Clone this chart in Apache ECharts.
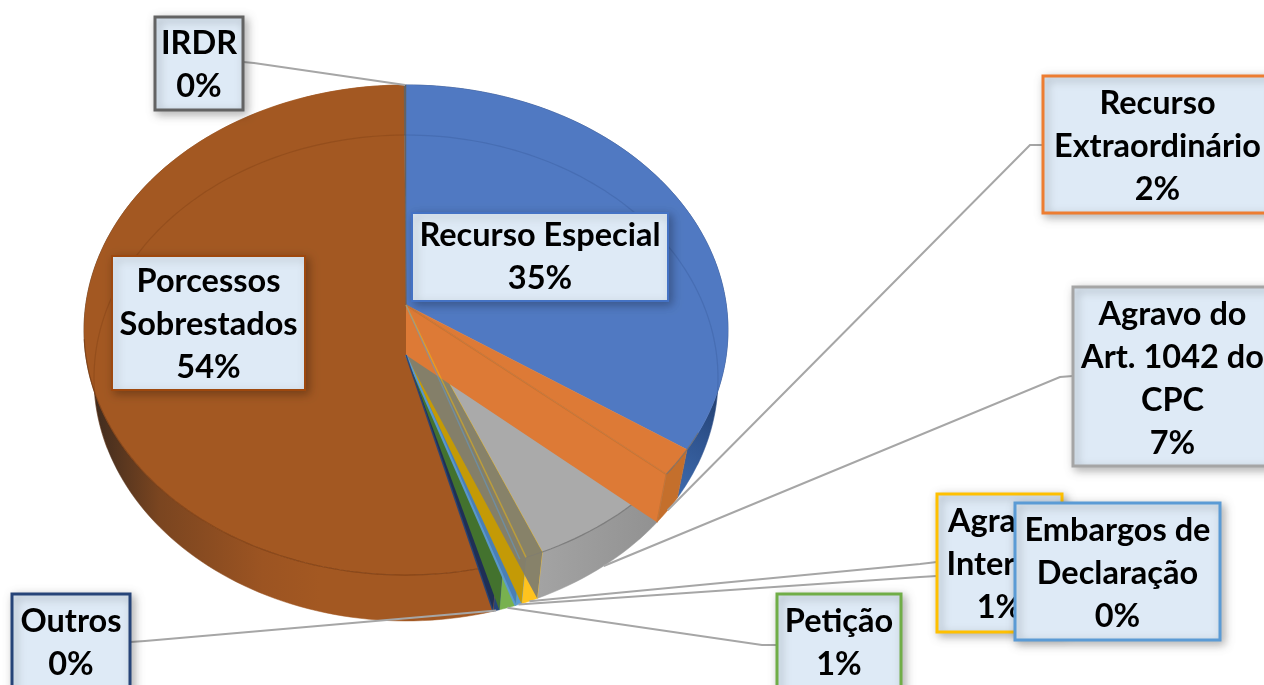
<!DOCTYPE html>
<html>
<head>
<meta charset="utf-8">
<style>
html, body { margin: 0; padding: 0; background: #fff; overflow: hidden; }
#main { width: 1264px; height: 685px; }
</style>
<script src="https://cdn.jsdelivr.net/npm/echarts@6/dist/echarts.min.js"></script>
</head>
<body>
<div id="main"></div>
<script>
var labels = ['Recurso Especial', 'Recurso\nExtraordinário', 'Agravo do\nArt. 1042 do\nCPC', 'Agravo\nInterno',
    'Embargos de\nDeclaração', 'Petição', 'Outros', 'Porcessos\nSobrestados', 'IRDR'];
// printed percentages are these rounded
var values = [34.5, 1.8, 7.4, 0.8, 0.3, 0.8, 0.3, 54, 0.1];
var colors = ['#4472c4', '#ed7d31', '#a5a5a5', '#ffc000', '#5b9bd5', '#70ad47', '#264478', '#9e480e', '#636363'];
var topColors = ['#5079c2', '#dd7a36', '#aaaaaa', '#ffc000', '#5b9bd5', '#70ad47', '#264478', '#a35822', '#636363'];
var faceColors = [null, '#dd7a36', 'rgba(128,125,112,0.94)', '#c49a06', '#4a7fb5', '#43722e', '#1f2f55', null, null];

// perspective of the two pie discs
var topDisc = { cx: 406, cy: 305, a: 320.3, b: 242.5, k: 0.102 };
var botDisc = { cx: 406, cy: 355, a: 310.6, b: 240.8, k: 0.0946 };

// label boxes [left, top, right, bottom], first text line centre, leader start and elbow
var boxes = [
    { rect: [412, 213, 668, 301], line: 2, textY: 236 },
    { rect: [1043, 76, 1272, 213], line: 3, textY: 104, from: [1043, 145], elbow: [1030, 145] },
    { rect: [1073, 287, 1272, 466], line: 3, textY: 315, from: [1073, 376], elbow: [1060, 377] },
    { rect: [937, 494, 1062, 632], line: 3, textY: 522, from: [937, 562], elbow: [920, 564] },
    { rect: [1015, 503, 1220, 640], line: 3, textY: 531, from: [937, 576], elbow: [920, 577] },
    { rect: [777, 594, 901, 700], line: 3, textY: 622, from: [777, 645], elbow: [762, 645] },
    { rect: [12, 594, 130, 700], line: 3, textY: 622, from: [130, 642], elbow: [145, 641] },
    { rect: [112, 256, 305, 390], line: 2, textY: 282 },
    { rect: [155, 17, 243, 110], line: 3, textY: 44, from: [243, 62], elbow: [254, 63] }
];

// parts of the disc rims that show through the top surface
var frontRange = [120, 262];
var backRanges = [[0, 116], [248, 360]];

var total = values.reduce(function (s, v) { return s + v; }, 0);

function project(disc, deg) {
    var t = deg * Math.PI / 180;
    var X = Math.sin(t), Y = -Math.cos(t);
    var d = 1 - disc.k * Y;
    return [disc.cx + disc.a * X / d, disc.cy + disc.b * Y / d];
}

function arc(disc, from, to) {
    var pts = [];
    var n = Math.max(2, Math.ceil((to - from) / 1.5));
    for (var i = 0; i <= n; i++) {
        pts.push(project(disc, from + (to - from) * i / n));
    }
    return pts;
}

function grad(x, y, x2, y2, stops) {
    return {
        type: 'linear', x: x, y: y, x2: x2, y2: y2, global: true,
        colorStops: stops.map(function (s) { return { offset: s[0], color: s[1] }; })
    };
}

var wallColors = [
    grad(730, 380, 660, 490, [[0, '#1f3864'], [0.5, '#2f5490'], [1, '#3f6cae']]),
    '#c46f2c',
    grad(540, 0, 680, 0, [[0, '#a3a3a3'], [1, '#8e8e8e']]),
    '#ffc31e', '#5b9bd5', '#78b14f', '#264478',
    grad(90, 0, 320, 0, [[0, '#3c2a1e'], [0.3, '#7a4520'], [0.75, '#9c5422'], [1, '#a35822']]),
    '#636363'
];

function rimLine(disc, a, b, stroke) {
    return {
        type: 'polyline', z2: 3,
        shape: { points: arc(disc, a, b) },
        style: { fill: null, stroke: stroke, lineWidth: 1.2 }
    };
}

function edgeLine(points, stroke, opacity, width) {
    return {
        type: 'polyline', z2: 16,
        shape: { points: points },
        style: { fill: null, stroke: stroke, opacity: opacity, lineWidth: width }
    };
}

function renderSlice(params, api) {
    var i = params.dataIndex;
    var start = 0;
    for (var j = 0; j < i; j++) start += values[j];
    var from = start / total * 360;
    var to = (start + api.value(0)) / total * 360;
    var mid = (from + to) / 2;
    var kids = [];

    var topArc = arc(topDisc, from, to);
    var botArc = arc(botDisc, from, to);
    kids.push({
        type: 'polygon', z2: 1,
        shape: { points: topArc.concat(botArc.slice().reverse()) },
        style: { fill: wallColors[i], stroke: wallColors[i], lineWidth: 0.5 }
    });
    kids.push({
        type: 'polygon', z2: 2,
        shape: { points: [[topDisc.cx, topDisc.cy]].concat(topArc) },
        style: { fill: topColors[i], stroke: topColors[i], lineWidth: 0.5 }
    });

    var a = Math.max(from, frontRange[0]), b = Math.min(to, frontRange[1]);
    if (b > a) {
        kids.push(rimLine(topDisc, a, b, i === 7 ? 'rgba(115,55,15,0.6)' : 'rgba(110,110,110,0.75)'));
    }
    backRanges.forEach(function (range) {
        var c = Math.max(from, range[0]), d = Math.min(to, range[1]);
        if (d > c) {
            kids.push(rimLine(botDisc, c, d, i === 7 ? 'rgba(115,55,15,0.3)' : 'rgba(45,75,135,0.25)'));
        }
    });

    if (faceColors[i]) {
        var v1 = [topDisc.cx, topDisc.cy], v2 = [botDisc.cx, botDisc.cy];
        var p = project(topDisc, to), q = project(botDisc, to);
        kids.push({
            type: 'polygon', z2: 4 + (180 - to) / 5,
            shape: { points: [v1, p, q, v2] },
            style: { fill: faceColors[i] }
        });
        if (i === 1) {
            kids.push(edgeLine([v1, p, q], '#c46f2c', 0.7, 1.5));
        } else if (i === 3) {
            kids.push(edgeLine([v1, p], colors[i], 0.45, 1.5));
        } else if (i === 4) {
            kids.push(edgeLine([v1, p], colors[i], 0.5, 1.5));
            kids.push(edgeLine([v2, q], colors[i], 0.9, 2));
        } else if (i === 6) {
            kids.push(edgeLine([v2, q], colors[i], 0.9, 1.5));
        }
    }

    var box = boxes[i];
    var r = box.rect;
    if (box.from) {
        var end = project(Math.cos(mid * Math.PI / 180) < 0 ? botDisc : topDisc, mid);
        kids.push({
            type: 'polyline', z2: 20,
            shape: { points: [box.from, box.elbow, end] },
            style: { fill: null, stroke: '#a6a6a6', lineWidth: 2 }
        });
    }
    kids.push({
        type: 'rect', z2: 30 + i * 2,
        shape: { x: r[0], y: r[1], width: r[2] - r[0], height: r[3] - r[1] },
        style: {
            fill: '#deeaf6', stroke: colors[i], lineWidth: box.line,
            shadowBlur: 9, shadowOffsetX: 3, shadowOffsetY: 3, shadowColor: 'rgba(0,0,0,0.28)'
        }
    });
    kids.push({
        type: 'text', z2: 31 + i * 2,
        style: {
            x: (r[0] + r[2]) / 2,
            y: box.textY - 21.5,
            text: labels[i] + '\n' + Math.round(api.value(0)) + '%',
            font: 'bold 32.5px Lato, "Open Sans", sans-serif',
            fill: '#000', align: 'center', verticalAlign: 'top', lineHeight: 43
        }
    });
    return { type: 'group', children: kids };
}

var myChart = echarts.init(document.getElementById('main'), null, { renderer: 'canvas' });

myChart.setOption({
    animation: false,
    backgroundColor: '#fff',
    tooltip: { show: false },
    series: [
        {
            type: 'custom',
            coordinateSystem: 'none',
            silent: true,
            clip: false,
            renderItem: renderSlice,
            data: values.map(function (v, i) {
                return { name: labels[i], value: [v] };
            })
        }
    ]
});
</script>
</body>
</html>
